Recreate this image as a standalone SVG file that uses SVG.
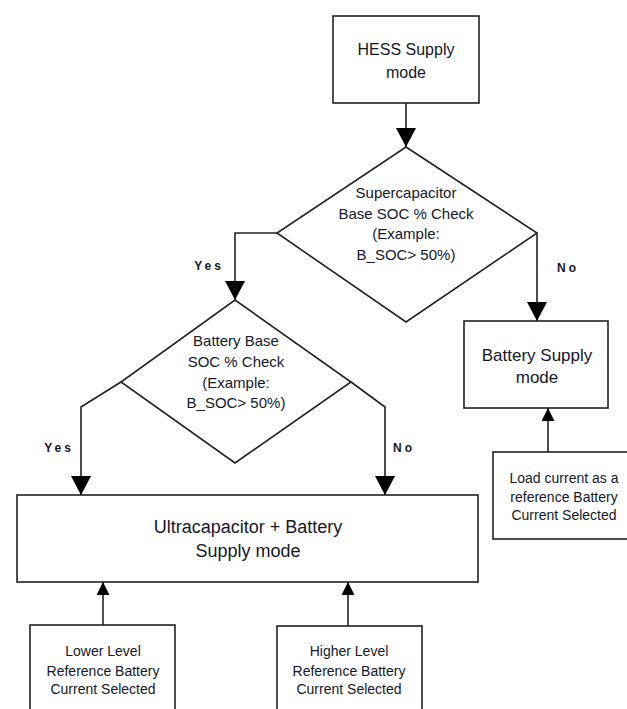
<svg xmlns="http://www.w3.org/2000/svg" width="627" height="709" viewBox="0 0 627 709">
<style>
.s{fill:#fff;stroke:#222;stroke-width:1.6}
.c{fill:none;stroke:#222;stroke-width:1.6}
text{font-family:"Liberation Sans",Arial,sans-serif;fill:#14182a;text-anchor:middle}
.lbl{font-size:12px;font-weight:bold;letter-spacing:3px}
</style>
<defs>
<marker id="big" viewBox="0 0 19 20" refX="19" refY="10" markerWidth="19" markerHeight="20" orient="auto" markerUnits="userSpaceOnUse"><path d="M0,0 L19,10 L0,20 z" fill="#000"/></marker>
<marker id="sm" viewBox="0 0 13 13" refX="13" refY="6.5" markerWidth="13" markerHeight="13" orient="auto" markerUnits="userSpaceOnUse"><path d="M0,0 L13,6.5 L0,13 z" fill="#000"/></marker>
</defs>
<rect width="627" height="709" fill="#fff"/>
<g id="connectors">
<path class="c" d="M406,103 V147" marker-end="url(#big)"/>
<path class="c" d="M277,233 H235 V300" marker-end="url(#big)"/>
<path class="c" d="M537,233 V321" marker-end="url(#big)"/>
<path class="c" d="M121,382 L81,407 V495" marker-end="url(#big)"/>
<path class="c" d="M351,382 L385,407 V495" marker-end="url(#big)"/>
<path class="c" d="M103,625 V582" marker-end="url(#sm)"/>
<path class="c" d="M348,626 V582" marker-end="url(#sm)"/>
<path class="c" d="M548,452 V408" marker-end="url(#sm)"/>
<text class="lbl" x="209" y="270">Yes</text>
<text class="lbl" x="568" y="272">No</text>
<text class="lbl" x="59" y="452">Yes</text>
<text class="lbl" x="404" y="452">No</text>
</g>
<g id="hess">
<rect class="s" x="333" y="16" width="146" height="87"/>
<text x="406" y="55" font-size="16">HESS Supply</text>
<text x="406" y="78" font-size="16">mode</text>
</g>
<g id="supercap-check">
<polygon class="s" points="406,147 537,233 406,322 277,233"/>
<text x="406" y="198" font-size="15">Supercapacitor</text>
<text x="406" y="219" font-size="15">Base SOC % Check</text>
<text x="406" y="239" font-size="15">(Example:</text>
<text x="406" y="260" font-size="15">B_SOC&gt; 50%)</text>
</g>
<g id="battery-check">
<polygon class="s" points="235,300 351,382 235,463 121,382"/>
<text x="236" y="346" font-size="15">Battery Base</text>
<text x="236" y="367" font-size="15">SOC % Check</text>
<text x="236" y="388" font-size="15">(Example:</text>
<text x="236" y="408" font-size="15">B_SOC&gt; 50%)</text>
</g>
<g id="battery-supply">
<rect class="s" x="464" y="321" width="144" height="87"/>
<text x="537" y="361" font-size="17">Battery Supply</text>
<text x="537" y="383" font-size="17">mode</text>
</g>
<g id="load-current">
<rect class="s" x="493" y="452" width="150" height="87"/>
<text x="564" y="483" font-size="14">Load current as a</text>
<text x="564" y="502" font-size="14">reference Battery</text>
<text x="564" y="520" font-size="14">Current Selected</text>
</g>
<g id="uc-battery">
<rect class="s" x="17" y="495" width="461" height="87"/>
<text x="248" y="533" font-size="18">Ultracapacitor + Battery</text>
<text x="248" y="557" font-size="18">Supply mode</text>
</g>
<g id="lower-level">
<rect class="s" x="30" y="625" width="145" height="100"/>
<text x="103" y="656" font-size="14">Lower Level</text>
<text x="103" y="676" font-size="14">Reference Battery</text>
<text x="103" y="694" font-size="14">Current Selected</text>
</g>
<g id="higher-level">
<rect class="s" x="277" y="626" width="145" height="100"/>
<text x="349" y="656" font-size="14">Higher Level</text>
<text x="349" y="676" font-size="14">Reference Battery</text>
<text x="349" y="694" font-size="14">Current Selected</text>
</g>
</svg>
